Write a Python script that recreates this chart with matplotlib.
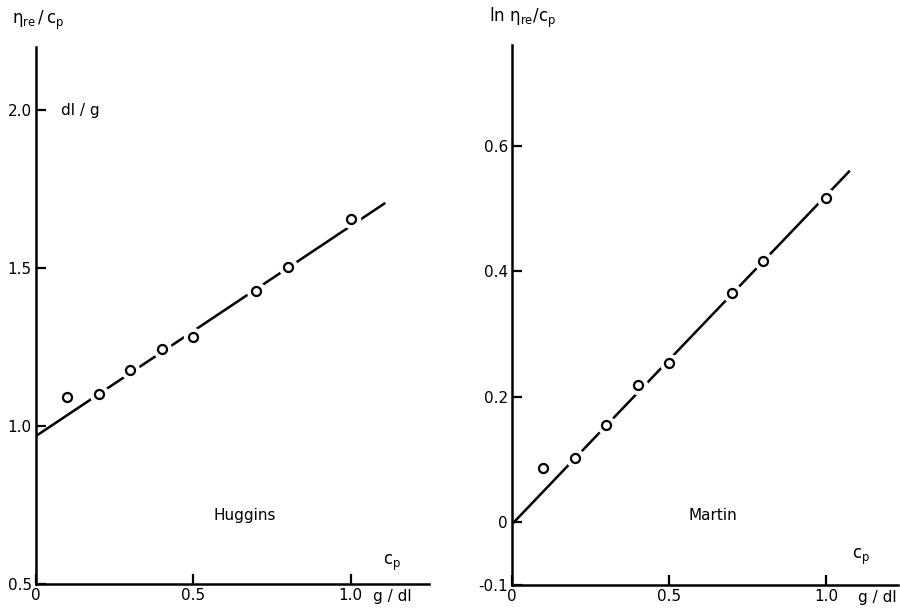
import numpy as np
import matplotlib.pyplot as plt

# concentration c_p in g/dl
cp = [0.1, 0.2, 0.3, 0.4, 0.5, 0.7, 0.8, 1.0]

# Huggins: eta_re / c_p (dl/g)
huggins_y = [1.09, 1.10, 1.177, 1.243, 1.28, 1.427, 1.503, 1.655]
huggins_line_x = [0.0, 1.11]
huggins_line_y = [0.968, 1.706]

# Martin: ln(eta_re / c_p)
martin_y = [0.086, 0.102, 0.155, 0.219, 0.254, 0.365, 0.416, 0.517]
martin_line_x = [0.0, 1.076]
martin_line_y = [-0.003, 0.56]

huggins_yticks = [0.5, 1.0, 1.5, 2.0]
huggins_ylabels = ['0.5', '1.0', '1.5', '2.0']
martin_yticks = [-0.1, 0, 0.2, 0.4, 0.6]
martin_ylabels = ['-0.1', '0', '0.2', '0.4', '0.6']
xticks = [0, 0.5, 1.0]
xlabels = ['0', '0.5', '1.0']

fig = plt.figure(figsize=(9, 6.1), dpi=100)
ax1 = fig.add_axes([0.04, 0.043, 0.437, 0.880])
ax2 = fig.add_axes([0.569, 0.041, 0.429, 0.885])

lw = 1.8


def draw(ax, y, lx, ly):
    ax.plot(lx, ly, color='black', lw=lw, solid_capstyle='butt', zorder=2)
    # white halo to break the line around each circle
    ax.plot(cp, y, 'o', ms=13, mfc='white', mec='white', zorder=3)
    ax.plot(cp, y, 'o', ms=6.5, mfc='white', mec='black', mew=1.6, zorder=4)
    for s in ['top', 'right']:
        ax.spines[s].set_visible(False)
    for s in ['left', 'bottom']:
        ax.spines[s].set_linewidth(lw)
    ax.tick_params(direction='in', length=7, width=1.6, labelsize=11, pad=3)
    ax.set_xticks(xticks)
    ax.set_xticklabels(xlabels)


draw(ax1, huggins_y, huggins_line_x, huggins_line_y)
ax1.set_xlim(0, 1.25)
ax1.set_ylim(0.5, 2.2)
ax1.set_yticks(huggins_yticks)
ax1.set_yticklabels(huggins_ylabels)
ax1.text(0.665, 0.715, 'Huggins', ha='center', va='center', fontsize=11)
ax1.text(0.08, 2.0, 'dl / g', ha='left', va='center', fontsize=11)
ax1.text(1.13, 0.565, r'$\mathregular{c_p}$', ha='center', va='center', fontsize=12)
ax1.text(1.07, -0.024, 'g / dl', ha='left', va='center', fontsize=11,
         transform=ax1.get_xaxis_transform())
ax1.text(-0.06, 1.05, r'$\mathregular{\eta_{re}\,/\,c_p}$', ha='left', va='center',
         fontsize=12, transform=ax1.transAxes)

draw(ax2, martin_y, martin_line_x, martin_line_y)
ax2.set_xlim(0, 1.23)
ax2.set_ylim(-0.1, 0.76)
ax2.set_yticks(martin_yticks)
ax2.set_yticklabels(martin_ylabels)
ax2.text(0.64, 0.01, 'Martin', ha='center', va='center', fontsize=11)
ax2.text(1.11, -0.055, r'$\mathregular{c_p}$', ha='center', va='center', fontsize=12)
ax2.text(1.225, -0.024, 'g / dl', ha='right', va='center', fontsize=11,
         transform=ax2.get_xaxis_transform())
ax2.text(-0.06, 1.05, r'ln $\mathregular{\eta_{re}/c_p}$', ha='left', va='center',
         fontsize=12, transform=ax2.transAxes)

fig.savefig('out.png', dpi=100)
